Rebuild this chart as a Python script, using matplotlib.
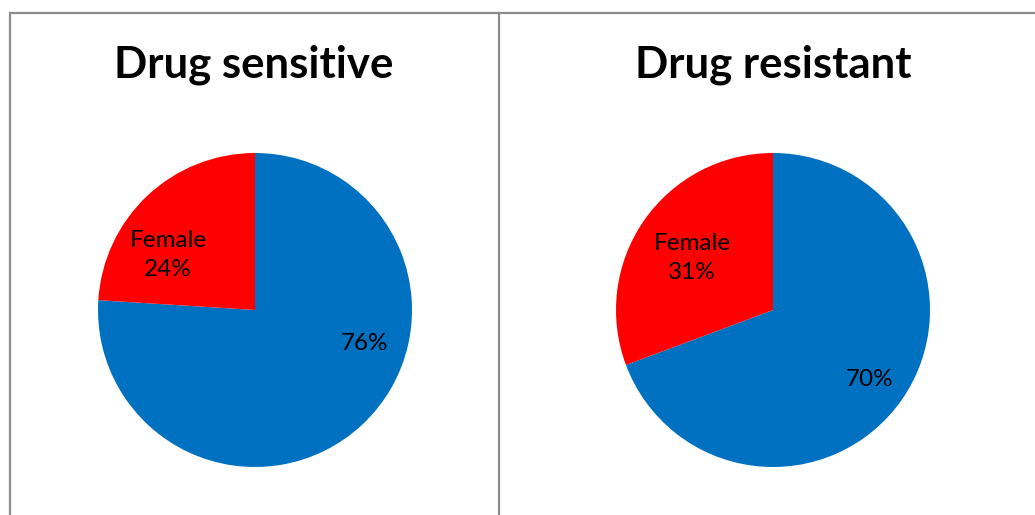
import matplotlib.pyplot as plt

# sex split by group
groups = ["Drug sensitive", "Drug resistant"]
male_pct = [76, 70]
female_pct = [24, 31]

blue = "#0070C0"
red = "#FF0000"
border = "#8C8C8C"

W, H = 1035, 515
fig = plt.figure(figsize=(W / 100, H / 100), dpi=100)
ax = fig.add_axes([0, 0, 1, 1])
ax.set_xlim(0, W)
ax.set_ylim(0, H)
ax.set_aspect("equal")
ax.axis("off")

# panel frames
ax.plot([9, W], [H - 13, H - 13], color=border, lw=1.6, solid_capstyle="butt")
ax.plot([10, 10], [0, H - 13], color=border, lw=1.6)
ax.plot([499, 499], [0, H - 13], color=border, lw=1.6)

centers = [(255, 205), (773, 205)]
title_x = [254, 773]
fem_pos = [(168, 260), (692, 257)]
male_pos = [(364, 171), (870, 135)]

for i, g in enumerate(groups):
    cx, cy = centers[i]
    ax.pie([male_pct[i], female_pct[i]], colors=[blue, red], startangle=90,
           counterclock=False, center=(cx, cy), radius=157,
           wedgeprops=dict(linewidth=0))
    ax.text(title_x[i], H - 65, g, ha="center", va="center",
            fontsize=31.5, fontweight="bold", family="Lato")
    ax.text(fem_pos[i][0], fem_pos[i][1], f"Female\n{female_pct[i]}%",
            ha="center", va="center", fontsize=17.5, family="Lato",
            linespacing=1.5)
    ax.text(male_pos[i][0], male_pos[i][1], f"{male_pct[i]}%",
            ha="center", va="center", fontsize=17.5, family="Lato")

ax.set_xlim(0, W)
ax.set_ylim(0, H)
fig.savefig("out.png", dpi=100)
